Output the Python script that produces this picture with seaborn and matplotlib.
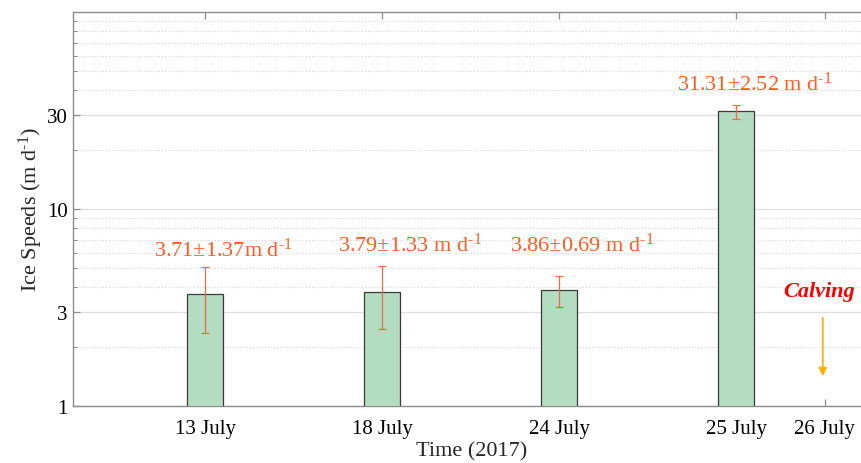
import numpy as np
import seaborn as sns
import matplotlib
matplotlib.use("Agg")
import matplotlib.pyplot as plt
from matplotlib import ticker

# Ice speed per acquisition date (m/d)
dates = ["13 July", "18 July", "24 July", "25 July", "26 July"]
speeds = [3.71, 3.79, 3.86, 31.31]
errors = [1.37, 1.33, 0.69, 2.52]
labels = [r"3.71$\pm$1.37m d$^{\text{-1}}$", r"3.79$\pm$1.33 m d$^{\text{-1}}$",
          r"3.86$\pm$0.69 m d$^{\text{-1}}$", r"31.31$\pm$2.52 m d$^{\text{-1}}$"]

# layout: tick positions (26 July is half a slot after 25 July)
tick_pos = [1, 2, 3, 4, 4.5]
bar_pos = tick_pos[:4]

sns.set_style("ticks")
plt.rcParams["font.family"] = ["Liberation Serif", "DejaVu Serif"]
plt.rcParams["mathtext.fontset"] = "custom"
plt.rcParams["mathtext.rm"] = "Liberation Serif"
plt.rcParams["mathtext.it"] = "Liberation Serif:italic"
plt.rcParams["mathtext.bf"] = "Liberation Serif:bold"

text_col = "#FF5A1F"
spine_col = "#8c8c8c"

fig = plt.figure(figsize=(8.61, 4.64), dpi=100)
ax = fig.add_axes([0.0848, 0.1228, 0.9257, 0.849])
ax.set_yscale("log")

sns.barplot(x=bar_pos, y=speeds, native_scale=True, width=0.2,
            color="#b3dcc1", edgecolor="#3a3a3a", linewidth=0.9,
            saturation=1, errorbar=None, ax=ax, zorder=3)
ax.errorbar(bar_pos, speeds, yerr=errors, fmt="none", ecolor="#F26B3A",
            elinewidth=0.9, capsize=3, capthick=0.9, zorder=4)

# value labels
lab_x = [1.10, 2.155, 3.127, 4.107]
lab_y = [5.77, 6.12, 6.12, 40.2]
for x, y, t in zip(lab_x, lab_y, labels):
    ax.text(x, y, t, color=text_col, fontsize=16, ha="center", va="baseline")

# calving marker
ax.text(4.47, 3.84, "Calving", color="#FF0000", fontsize=16,
        fontweight="bold", fontstyle="italic", ha="center", va="center")
ax.annotate("", xy=(4.49, 1.37), xytext=(4.49, 2.9),
            arrowprops=dict(arrowstyle="-|>", color="#FFB000", lw=1.3,
                            mutation_scale=12))

ax.set_xlim(0.254, 4.757)
ax.set_ylim(1, 100)
ax.set_xticks(tick_pos)
ax.set_xticklabels(dates)
ax.set_yticks([1, 3, 10, 30])
ax.set_yticklabels(["1", "3", "10", "30"])
ax.yaxis.set_minor_locator(ticker.LogLocator(subs=np.arange(2, 10)))
ax.yaxis.set_minor_formatter(ticker.NullFormatter())

ax.grid(axis="y", which="major", color="#dedede", linewidth=0.9, zorder=0)
ax.grid(axis="y", which="minor", color="#d6d6d6", linestyle=":",
        linewidth=0.8, zorder=0)
ax.set_axisbelow(True)

ax.tick_params(axis="both", which="major", direction="in", labelsize=15,
               color=spine_col, length=5, width=0.9, labelcolor="black")
ax.tick_params(axis="x", top=True, pad=9)
ax.tick_params(axis="y", which="minor", direction="in", length=3,
               color=spine_col, width=0.7)
ax.tick_params(axis="y", pad=4)
for s in ax.spines.values():
    s.set_color(spine_col)
    s.set_linewidth(1.0)
ax.spines["right"].set_visible(False)

ax.set_xlabel("Time (2017)", fontsize=16, labelpad=3)
ax.set_ylabel(r"Ice Speeds (m d$^{\text{-1}}$)", fontsize=16, labelpad=1)

fig.savefig("out.png", dpi=100)
